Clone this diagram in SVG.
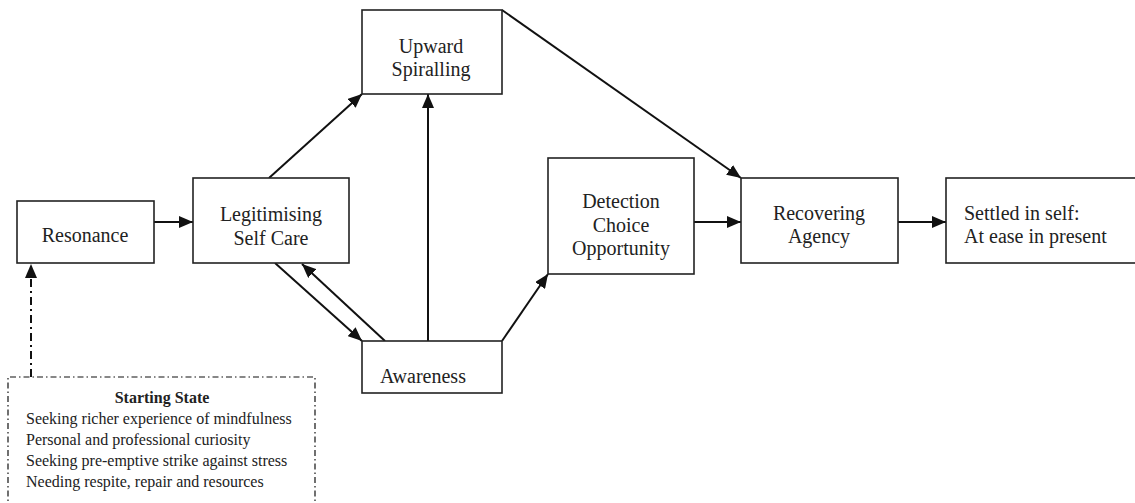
<svg xmlns="http://www.w3.org/2000/svg" width="1135" height="503" viewBox="0 0 1135 503">
<style>
.box{fill:#fff;stroke:#222;stroke-width:1.6}
.t{font-family:"Liberation Serif",serif;font-size:20px;fill:#222}
.s{font-family:"Liberation Serif",serif;font-size:16px;fill:#222}
.c{text-anchor:middle}
.e{stroke:#111;stroke-width:2;fill:none}
.dd{stroke:#111;stroke-width:1.2;fill:none;stroke-dasharray:6 3 1.5 3}
</style>
<defs>
<marker id="ah" viewBox="0 0 14 12" refX="14" refY="6" markerWidth="14" markerHeight="12" markerUnits="userSpaceOnUse" orient="auto">
<path d="M0,0 L14,6 L0,12 Z" fill="#111"/>
</marker>
</defs>
<rect width="1135" height="503" fill="#fff"/>
<g id="connectors">
<line class="e" x1="154" y1="222" x2="193" y2="222" marker-end="url(#ah)"/>
<line class="e" x1="269" y1="178" x2="362" y2="94" marker-end="url(#ah)"/>
<line class="e" x1="428" y1="341" x2="428" y2="94" marker-end="url(#ah)"/>
<line class="e" x1="275" y1="263" x2="362" y2="341" marker-end="url(#ah)"/>
<line class="e" x1="385" y1="341" x2="302" y2="264" marker-end="url(#ah)"/>
<line class="e" x1="502" y1="341" x2="548" y2="274" marker-end="url(#ah)"/>
<line class="e" x1="502" y1="10" x2="741" y2="178" marker-end="url(#ah)"/>
<line class="e" x1="694" y1="222" x2="741" y2="222" marker-end="url(#ah)"/>
<line class="e" x1="898" y1="222" x2="946" y2="222" marker-end="url(#ah)"/>
<line x1="31" y1="377" x2="31" y2="278" stroke="#111" stroke-width="2" stroke-dasharray="8 4 2 4"/>
<path d="M25,278 L31,264 L37,278 Z" fill="#111"/>
</g>
<g id="resonance">
<rect class="box" x="17" y="201" width="137" height="62"/>
<text class="t c" x="85" y="242">Resonance</text>
</g>
<g id="legitimising">
<rect class="box" x="193" y="178" width="156" height="85"/>
<text class="t c" x="271" y="221">Legitimising</text>
<text class="t c" x="271" y="245">Self Care</text>
</g>
<g id="upward">
<rect class="box" x="362" y="10" width="140" height="84"/>
<text class="t c" x="431" y="53">Upward</text>
<text class="t c" x="431" y="76">Spiralling</text>
</g>
<g id="awareness">
<rect class="box" x="362" y="341" width="140" height="52"/>
<text class="t" x="380" y="383">Awareness</text>
</g>
<g id="detection">
<rect class="box" x="548" y="158" width="146" height="116"/>
<text class="t c" x="621" y="208">Detection</text>
<text class="t c" x="621" y="232">Choice</text>
<text class="t c" x="621" y="255">Opportunity</text>
</g>
<g id="recovering">
<rect class="box" x="741" y="178" width="157" height="85"/>
<text class="t c" x="819" y="220">Recovering</text>
<text class="t c" x="819" y="243">Agency</text>
</g>
<g id="settled">
<rect class="box" x="946" y="178" width="200" height="85"/>
<text class="t" x="964" y="220">Settled in self:</text>
<text class="t" x="964" y="243">At ease in present</text>
</g>
<g id="starting-state">
<path class="dd" d="M8,510 L8,377 L315,377 L315,510"/>
<text class="s c" x="162" y="403" font-weight="bold">Starting State</text>
<text class="s" x="26" y="424">Seeking richer experience of mindfulness</text>
<text class="s" x="26" y="445">Personal and professional curiosity</text>
<text class="s" x="26" y="466">Seeking pre-emptive strike against stress</text>
<text class="s" x="26" y="487">Needing respite, repair and resources</text>
</g>
</svg>
